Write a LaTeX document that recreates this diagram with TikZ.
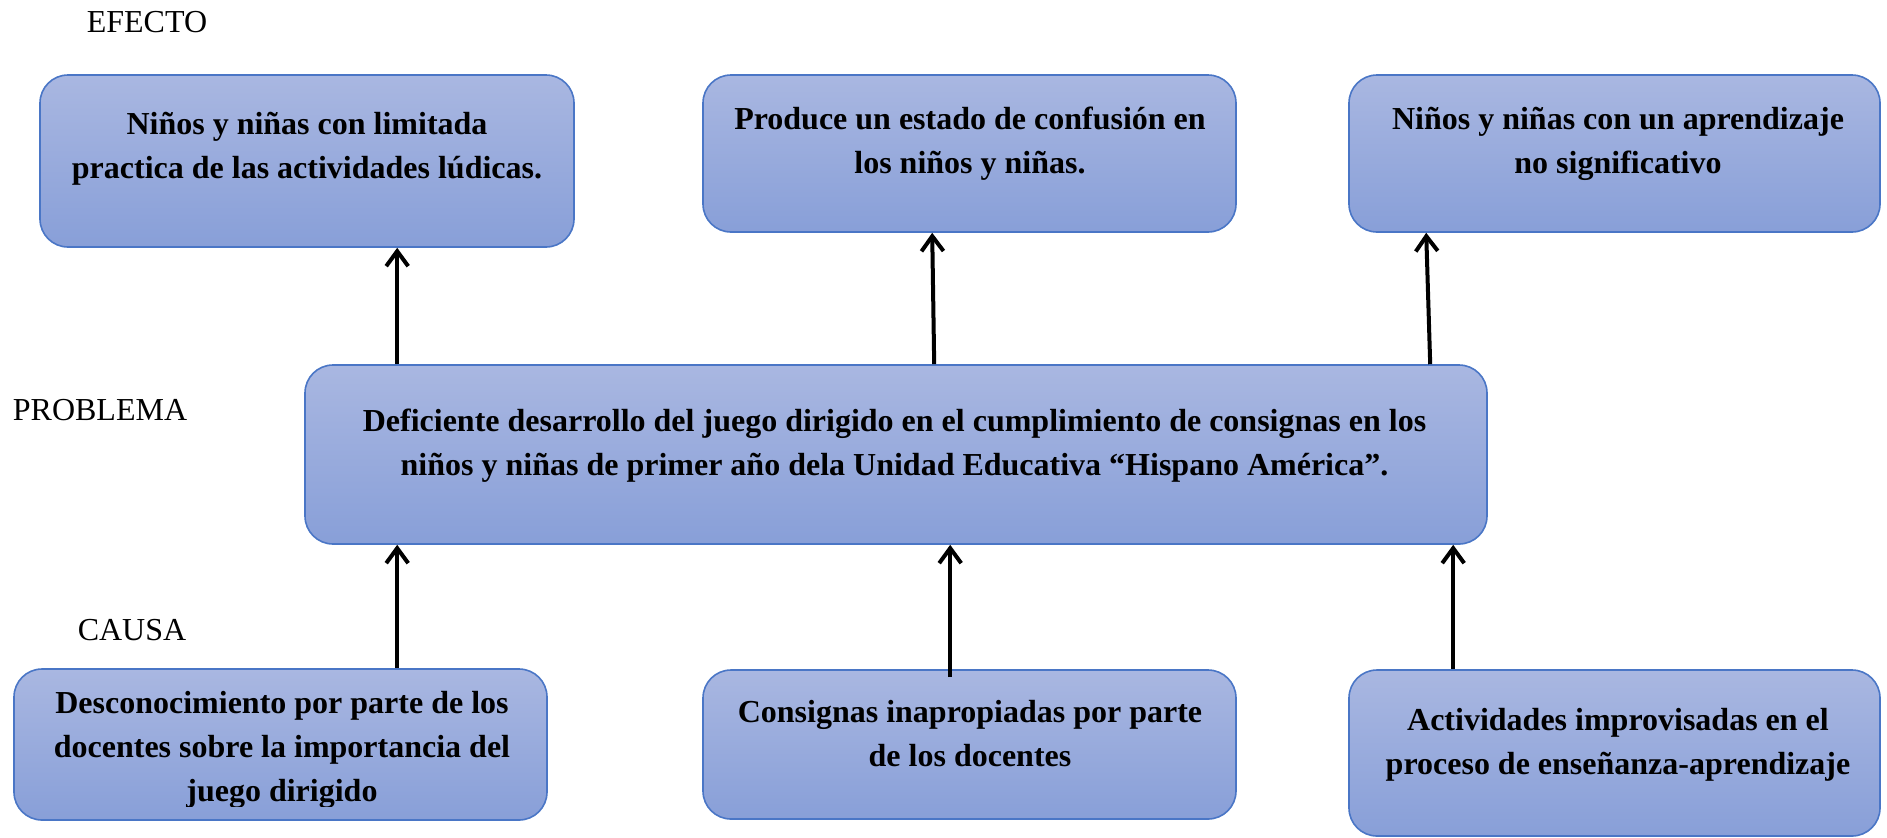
\documentclass[tikz,border=0pt]{standalone}
\usepackage{fontspec}
\setmainfont{Liberation Serif}
\usetikzlibrary{arrows.meta,calc}
\definecolor{boxtop}{HTML}{A9B7E1}
\definecolor{boxbot}{HTML}{889FD8}
\definecolor{boxline}{HTML}{4A76C6}
\tikzset{
  px/.style={x=0.5pt,y=-0.5pt},
  box/.style={rectangle,rounded corners=14pt,draw=boxline,line width=0.8pt,
    top color=boxtop,bottom color=boxbot,inner sep=0pt},
  boxtext/.style={align=center,inner sep=0pt,font=\fontsize{16pt}{22pt}\selectfont\bfseries},
  lbl/.style={inner sep=0pt,font=\fontsize{16pt}{22pt}\selectfont},
  arr/.style={-{Straight Barb[length=7.5pt,width=11pt]},line width=2pt,black}
}
\begin{document}
\begin{tikzpicture}[px]
\useasboundingbox (0,0) rectangle (1887,837);
% boxes
\node[box,minimum width=267pt,minimum height=86pt] (e1) at (307,161) {};
\node[box,minimum width=266.5pt,minimum height=78.5pt] (e2) at (969.5,153.5) {};
\node[box,minimum width=265.5pt,minimum height=78.5pt] (e3) at (1614.5,153.5) {};
\node[box,minimum width=591pt,minimum height=89.5pt] (p) at (896,454.5) {};
\node[box,minimum width=266.5pt,minimum height=75.5pt] (c1) at (280.5,744.5) {};
\node[box,minimum width=266.5pt,minimum height=74.5pt] (c2) at (969.5,744.5) {};
\node[box,minimum width=265.5pt,minimum height=83pt] (c3) at (1614.5,753) {};
% texts
\node[boxtext] (te1) at (307,149) {Niños y niñas con limitada\\practica de las actividades lúdicas.};
\node[boxtext] (te2) at (970,144) {Produce un estado de confusión en\\los niños y niñas.};
\node[boxtext] (te3) at (1618,144) {Niños y niñas con un aprendizaje\\no significativo};
\node[boxtext] (tp) at (894.5,446) {Deficiente desarrollo del juego dirigido en el cumplimiento de consignas en los\\niños y niñas de primer año dela Unidad Educativa “Hispano América”.};
\begin{scope}
\clip (0,0) rectangle (1887,806);
\node[boxtext] (tc1) at (282,750) {Desconocimiento por parte de los\\docentes sobre la importancia del\\juego dirigido};
\end{scope}
\node[boxtext] (tc2) at (970,734) {Consignas inapropiadas por parte\\de los docentes};
\node[boxtext] (tc3) at (1618,744.5) {Actividades improvisadas en el\\proceso de enseñanza-aprendizaje};
% labels
\node[lbl] (lef) at (147,22) {EFECTO};
\node[lbl] (lpr) at (100,410) {PROBLEMA};
\node[lbl] (lca) at (132,630) {CAUSA};
% arrows
\draw[arr] ($(p.north west)+(93,0)$) -- ($(e1.south west)+(358,0)$);
\draw[arr] ($(p.north west)+(630,0)$) -- ($(e2.south west)+(230,0)$);
\draw[arr] ($(p.north west)+(1126,0)$) -- ($(e3.south west)+(78,0)$);
\draw[arr] ($(c1.north west)+(384,0)$) -- ($(p.south west)+(93,0)$);
\draw[arr] ($(c2.north west)+(248,8)$) -- ($(p.south west)+(646,0)$);
\draw[arr] ($(c3.north west)+(105,0)$) -- ($(p.south west)+(1149,0)$);
\end{tikzpicture}
\end{document}
